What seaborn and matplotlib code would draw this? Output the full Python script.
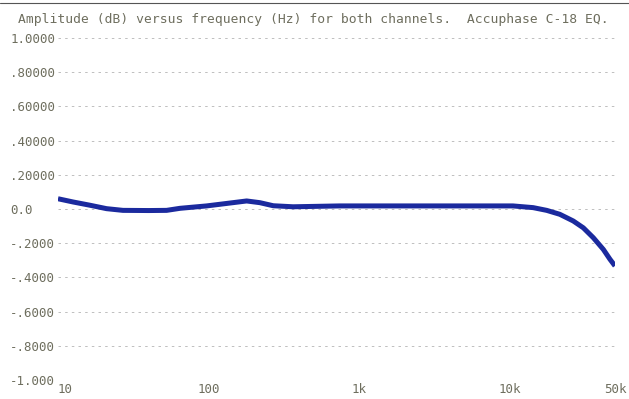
import numpy as np
import pandas as pd
import matplotlib
matplotlib.use("Agg")
import matplotlib.pyplot as plt
from matplotlib.lines import Line2D
import seaborn as sns

# ---- data ----
freq_hz = [10, 12.6, 16.3, 21, 27, 40, 52.6, 64.6, 97, 145, 179, 219, 269, 364,
           741, 2000, 5000, 10500, 14300, 17600, 21500, 26400, 30800, 35900,
           41800, 46300, 50000]
amp_db = [0.060, 0.041, 0.022, 0.002, -0.008, -0.009, -0.008, 0.004, 0.018,
          0.037, 0.047, 0.037, 0.019, 0.013, 0.018, 0.018, 0.018, 0.018,
          0.008, -0.008, -0.031, -0.070, -0.110, -0.168, -0.236, -0.294,
          -0.333]
y_ticks = [1.0, 0.8, 0.6, 0.4, 0.2, 0.0, -0.2, -0.4, -0.6, -0.8, -1.0]
y_tick_labels = ["1.0000", ".80000", ".60000", ".40000", ".20000", "0.0",
                 "-.2000", "-.4000", "-.6000", "-.8000", "-1.000"]
x_ticks = [10, 100, 1000, 10000, 50000]
x_tick_labels = ["10", "100", "1k", "10k", "50k"]
title = "Amplitude (dB) versus frequency (Hz) for both channels.  Accuphase C-18 EQ."

df = pd.DataFrame({"freq": freq_hz, "amp": amp_db})

sns.set_style("white")
plt.rcParams["font.family"] = ["DejaVu Sans Mono"]
txt_color = "#6e6e5e"

fig = plt.figure(figsize=(6.29, 3.99), dpi=100)
W, H = 629, 399
ax = fig.add_axes([58 / W, 1 - 380 / H, (615 - 58) / W, (380 - 38) / H])

sns.lineplot(data=df, x="freq", y="amp", ax=ax, color="#1b2a9e", lw=3.6,
             solid_capstyle="butt", solid_joinstyle="round")

ax.set_xscale("log")
ax.set_xlim(10, 50000)
ax.set_ylim(-1.0, 1.0)
ax.set_xlabel("")
ax.set_ylabel("")

for yv in y_ticks[:-1]:
    ax.axhline(yv, color="#b4b4b4", lw=0.6, ls=(0, (3, 5)), zorder=0)

for s in ax.spines.values():
    s.set_visible(False)

ax.set_yticks(y_ticks)
ax.set_yticklabels(y_tick_labels, fontsize=9, color=txt_color)
ax.tick_params(axis="y", length=0, pad=34.5)
for lab in ax.get_yticklabels():
    lab.set_horizontalalignment("left")

ax.set_xticks(x_ticks)
ax.set_xticks([], minor=True)
ax.set_xticklabels(x_tick_labels, fontsize=9, color=txt_color)
ax.tick_params(axis="x", length=0, pad=2)
ax.get_xticklabels()[0].set_horizontalalignment("left")

fig.text(18 / W, 1 - 19 / H, title, fontsize=9.4, color=txt_color,
         ha="left", va="center")
fig.add_artist(Line2D([0, 1], [1 - 3 / H, 1 - 3 / H], color="#555555", lw=0.8))

fig.savefig("out.png", dpi=100, facecolor="white")
